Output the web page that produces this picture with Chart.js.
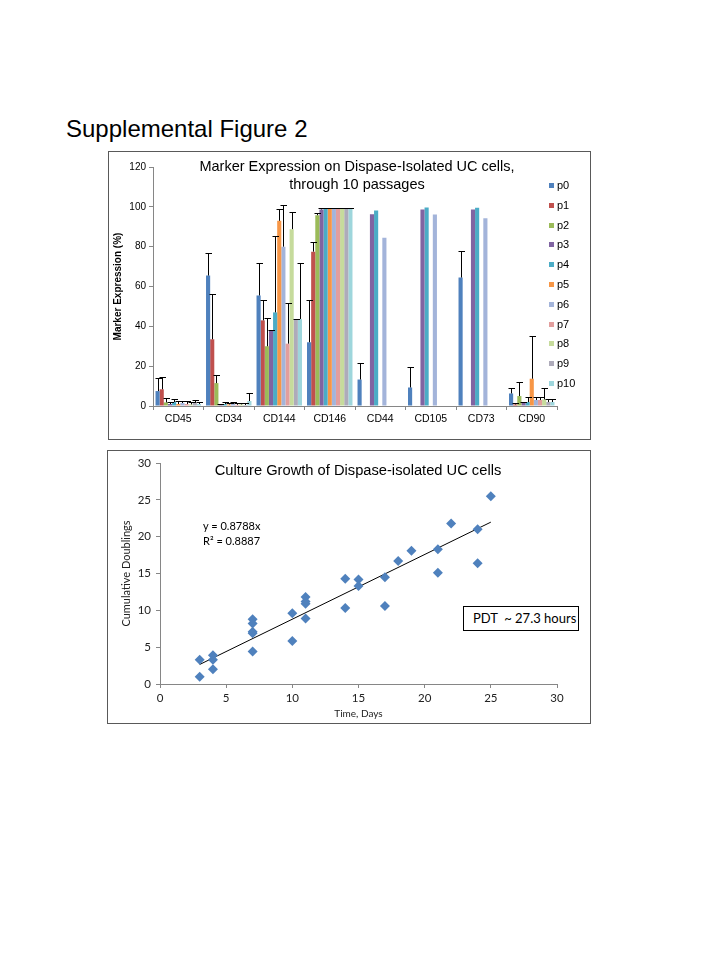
<!DOCTYPE html>
<html>
<head>
<meta charset="utf-8">
<script src="https://cdn.jsdelivr.net/npm/chart.js@4.4.1/dist/chart.umd.min.js"></script>
<style>
  body { margin: 0; width: 720px; height: 960px; position: relative; background: #fff;
         font-family: "Liberation Sans", Arial, sans-serif; color: #000; }
  .heading { position: absolute; left: 66px; top: 115px; font-size: 24px; line-height: 28px; }
  .box { position: absolute; border: 1px solid #595959; background: #fff; }
  .box canvas { display: block; }
  .title { position: absolute; text-align: center; white-space: nowrap; }
  #legend { position: absolute; left: 549px; top: 176px; font-size: 11px; }
  #legend div { height: 19.8px; line-height: 19.8px; white-space: nowrap; }
  #legend span { display: inline-block; width: 5px; height: 5px; margin-right: 3px; vertical-align: 1px; }
  .eq { position: absolute; left: 203px; font-family: Lato, "Open Sans", sans-serif; font-size: 11px; line-height: 15px; }
  .pdt { position: absolute; left: 463px; top: 606px; width: 114px; height: 23px; border: 1px solid #000;
         background: #fff; font-family: Lato, "Open Sans", sans-serif; font-size: 13px; line-height: 23px;
         white-space: nowrap; }
  .pdt span { position: absolute; left: 9px; }
</style>
</head>
<body>
<div class="heading">Supplemental Figure 2</div>

<div class="box" style="left:108px; top:151px;">
  <canvas id="markerChart" width="481" height="287"></canvas>
</div>
<div class="title" style="left:157px; width:400px; top:158px; font-size:14.5px; line-height:17.6px;">
  Marker Expression on Dispase-Isolated UC cells,<br>through 10 passages
</div>
<div id="legend"></div>

<div class="box" style="left:107px; top:450px;">
  <canvas id="growthChart" width="482" height="272"></canvas>
</div>
<div class="title" style="left:158px; width:400px; top:462px; font-size:14.7px; line-height:17px;">
  Culture Growth of Dispase-isolated UC cells
</div>
<div class="eq" style="top:518px;">y = 0.8788x</div>
<div class="eq" style="top:533px;">R² = 0.8887</div>
<div class="pdt"><span>PDT&nbsp; ~ 27.3 hours</span></div>

<script>
// marker expression (%) per passage, one value per marker
const markers = ['CD45', 'CD34', 'CD144', 'CD146', 'CD44', 'CD105', 'CD73', 'CD90'];
const passages = ['p0', 'p1', 'p2', 'p3', 'p4', 'p5', 'p6', 'p7', 'p8', 'p9', 'p10'];

const p0 = [7.5, 65.5, 55.5, 32, 13.3, 9.3, 64.5, 6.3];
const p1 = [8.4, 33.5, 43, 77.5, null, null, null, 0.8];
const p2 = [1.8, 11.5, 30, 95.8, null, null, null, 5];
const p3 = [1, 0.6, 38, 98.7, 96.3, 98.7, 98.7, 1.7];
const p4 = [2, 1, 47, 99.2, 98.2, 99.7, 99.5, 2];
const p5 = [1, 0.8, 93, 99.2, null, null, null, 13.7];
const p6 = [1.5, 1, 80, 99.2, 84.5, 96.2, 94.3, 3];
const p7 = [1, 0.6, 31.3, 99.2, null, null, null, 3];
const p8 = [0.8, 0.8, 88.8, 99.2, null, null, null, 3.3];
const p9 = [1.5, 0.5, 43.3, 99.2, null, null, null, 2];
const p10 = [1, 2.5, 43.7, 99.2, null, null, null, 2];

// upper error (sd) per passage
const p0Err = [6.5, 11.5, 16.5, 21, 8.4, 10.2, 13.3, 2.7];
const p1Err = [6.3, 22.5, 10, 5, null, null, null, 0.5];
const p2Err = [2, 3.9, 14, 1, null, null, null, 7];
const p3Err = [1.2, 0.6, 0.3, 0.8, null, null, null, 0.5];
const p4Err = [1.5, 1, 38.5, 0.4, null, null, null, 2.7];
const p5Err = [1.6, 0.7, 6, 0.4, null, null, null, 21.3];
const p6Err = [1.2, 1, 21, 0.4, null, null, null, 1.7];
const p7Err = [1.4, 0.8, 20.4, 0.4, null, null, null, 1.7];
const p8Err = [1, 0.8, 8.4, 0.4, null, null, null, 5.7];
const p9Err = [1.5, 1, 0.3, 0.4, null, null, null, 1.3];
const p10Err = [1.2, 4.2, 28, 0.4, null, null, null, 1.3];

const passageColors = ['#4F81BD', '#C0504D', '#9BBB59', '#8064A2', '#4BACC6', '#F79646',
                       '#A3B4DA', '#E29E9D', '#C6DB9C', '#AEABBA', '#9ED6DC'];

const markerTicks = [0, 20, 40, 60, 80, 100, 120];

// culture growth
const days = [3, 3, 4, 4, 4, 7, 7, 7, 7, 7, 10, 10, 11, 11, 11, 11, 14, 14, 15, 15,
              17, 17, 18, 19, 21, 21, 22, 24, 24, 25];
const doublings = [3.3, 1.0, 3.9, 3.3, 2.0, 8.8, 8.2, 7.1, 6.9, 4.4, 9.6, 5.85, 11.8, 11.2, 10.9, 8.9,
                   14.3, 10.3, 14.2, 13.3, 14.5, 10.6, 16.7, 18.1, 18.3, 15.1, 21.8, 21.0, 16.4, 25.5];
const trendDays = [3, 25];
const trendDoublings = [2.65, 21.97];

const values = [p0, p1, p2, p3, p4, p5, p6, p7, p8, p9, p10];
const errors = [p0Err, p1Err, p2Err, p3Err, p4Err, p5Err, p6Err, p7Err, p8Err, p9Err, p10Err];

const axisGrey = '#868686';

// draws the upper error bars on top of each bar
const errorBars = {
  id: 'errorBars',
  afterDatasetsDraw(chart) {
    const ctx = chart.ctx;
    const y = chart.scales.y;
    ctx.save();
    ctx.strokeStyle = '#000';
    ctx.lineWidth = 1;
    chart.data.datasets.forEach((ds, i) => {
      chart.getDatasetMeta(i).data.forEach((bar, j) => {
        const v = ds.data[j], e = ds.errors[j];
        if (v == null || e == null) return;
        const x = Math.round(bar.x) + 0.5;
        const top = Math.round(y.getPixelForValue(v + e)) + 0.5;
        ctx.beginPath();
        ctx.moveTo(x, y.getPixelForValue(v));
        ctx.lineTo(x, top);
        ctx.moveTo(x - 3, top);
        ctx.lineTo(x + 3.5, top);
        ctx.stroke();
      });
    });
    ctx.restore();
  }
};

const markerChart = new Chart(document.getElementById('markerChart'), {
  type: 'bar',
  data: {
    labels: markers,
    datasets: passages.map((p, i) => ({
      label: p,
      data: values[i],
      errors: errors[i],
      backgroundColor: passageColors[i],
      borderWidth: 0,
      categoryPercentage: 0.9,
      barPercentage: 1.0
    }))
  },
  options: {
    responsive: false,
    animation: false,
    layout: { padding: { top: 15, right: 33, left: 0, bottom: 0 } },
    plugins: { legend: { display: false }, tooltip: { enabled: false } },
    scales: {
      x: {
        afterFit: s => { s.height = 33; },
        grid: { drawOnChartArea: false, tickLength: 4, color: axisGrey },
        border: { color: axisGrey },
        ticks: { color: '#000', font: { family: 'Liberation Sans', size: 10.5 }, padding: 3 }
      },
      y: {
        min: 0, max: 120,
        afterFit: s => { s.width = 44; },
        afterBuildTicks: s => { s.ticks = markerTicks.map(v => ({ value: v })); },
        grid: { drawOnChartArea: false, tickLength: 4, color: axisGrey },
        border: { color: axisGrey },
        ticks: { color: '#000', font: { family: 'Liberation Sans', size: 10 }, padding: 3 },
        title: {
          display: true, text: 'Marker Expression (%)', color: '#000',
          font: { family: 'Liberation Sans', size: 10, weight: 'bold' },
          padding: { top: 3, bottom: 0 }
        }
      }
    }
  },
  plugins: [errorBars]
});

// legend built from the chart datasets
document.getElementById('legend').innerHTML = markerChart.data.datasets
  .map(ds => `<div><span style="background:${ds.backgroundColor}"></span>${ds.label}</div>`)
  .join('');

new Chart(document.getElementById('growthChart'), {
  type: 'scatter',
  data: {
    datasets: [
      {
        label: 'Cumulative Doublings',
        data: days.map((d, i) => ({ x: d, y: doublings[i] })),
        pointStyle: 'rectRot',
        pointRadius: 5,
        backgroundColor: '#4F81BD',
        borderColor: '#4F81BD',
        borderWidth: 0
      },
      {
        label: 'Trend',
        type: 'line',
        data: trendDays.map((d, i) => ({ x: d, y: trendDoublings[i] })),
        borderColor: '#000',
        borderWidth: 1,
        pointRadius: 0,
        fill: false
      }
    ]
  },
  options: {
    responsive: false,
    animation: false,
    layout: { padding: { top: 12, right: 33, left: 0, bottom: 0 } },
    plugins: { legend: { display: false }, tooltip: { enabled: false } },
    scales: {
      x: {
        type: 'linear', min: 0, max: 30,
        afterFit: s => { s.height = 39; },
        grid: { drawOnChartArea: false, tickLength: 4, color: axisGrey },
        border: { color: axisGrey },
        ticks: { stepSize: 5, color: '#222', font: { family: 'Lato', size: 11.5 }, padding: 3 },
        title: {
          display: true, text: 'Time, Days', color: '#222',
          font: { family: 'Lato', size: 10 }, padding: { top: 0, bottom: 3 }
        }
      },
      y: {
        min: 0, max: 30,
        afterFit: s => { s.width = 52; },
        grid: { drawOnChartArea: false, tickLength: 4, color: axisGrey },
        border: { color: axisGrey },
        ticks: { stepSize: 5, color: '#222', font: { family: 'Lato', size: 11.5 }, padding: 5 },
        title: {
          display: true, text: 'Cumulative Doublings', color: '#222',
          font: { family: 'Lato', size: 11 }, padding: { top: 12, bottom: 0 }
        }
      }
    }
  }
});
</script>
</body>
</html>
